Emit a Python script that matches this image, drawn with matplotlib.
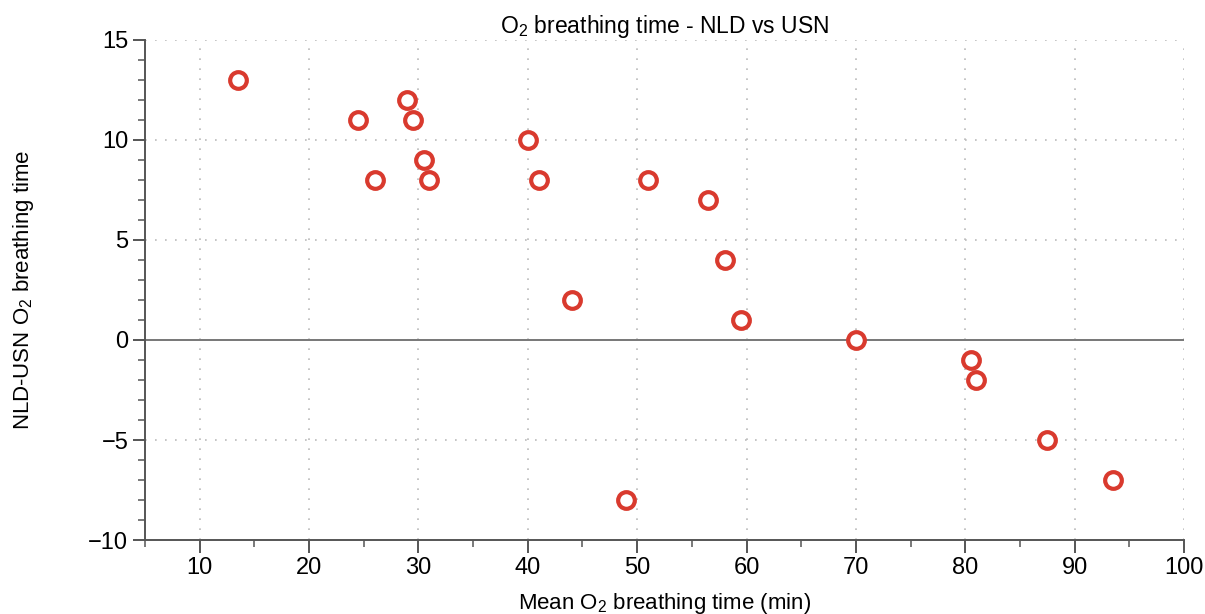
import numpy as np
import matplotlib
matplotlib.use('Agg')
from matplotlib import pyplot as plt
from matplotlib.ticker import MultipleLocator

# data
mean_time = [13.5, 24.5, 26, 29, 29.5, 30.5, 31, 40, 41, 44, 49, 51,
             56.5, 58, 59.5, 70, 80.5, 81, 87.5, 93.5]
diff_time = [13, 11, 8, 12, 11, 9, 8, 10, 8, 2, -8, 8,
             7, 4, 1, 0, -1, -2, -5, -7]

plt.rcParams['font.family'] = ['Liberation Sans', 'DejaVu Sans']
plt.rcParams['mathtext.fontset'] = 'custom'
plt.rcParams['mathtext.rm'] = 'Liberation Sans'
plt.rcParams['mathtext.default'] = 'regular'

fig = plt.figure(figsize=(12.05, 6.14), dpi=100)
ax = fig.add_axes([0.1203, 0.1205, 0.8623, 0.8144])

spine_col = '#555555'
grid_col = '#bbbbbb'

ax.set_xlim(5, 100)
ax.set_ylim(-10, 15)

ax.xaxis.set_major_locator(MultipleLocator(10))
ax.xaxis.set_minor_locator(MultipleLocator(5))
ax.yaxis.set_major_locator(MultipleLocator(5))
ax.yaxis.set_minor_locator(MultipleLocator(1))

for s in ['top', 'right']:
    ax.spines[s].set_visible(False)
for s in ['left', 'bottom']:
    ax.spines[s].set_color(spine_col)
    ax.spines[s].set_linewidth(1.4)

ax.tick_params(which='major', direction='out', length=9, width=1.4, color=spine_col,
               labelsize=17, pad=3)
ax.tick_params(which='minor', direction='out', length=5, width=1.1, color=spine_col)

# dotted grid at major ticks
for xv in np.arange(10, 101, 10):
    ax.axvline(xv, color=grid_col, linestyle=(0, (1, 5)), linewidth=1.2, zorder=0)
for yv in np.arange(-5, 16, 5):
    if yv != 0:
        ax.axhline(yv, color=grid_col, linestyle=(0, (1, 5)), linewidth=1.2, zorder=0)
ax.axhline(0, color='#777777', linewidth=1.4, zorder=1)

ax.plot(mean_time, diff_time, linestyle='none', marker='o', markersize=12,
        markerfacecolor='white', markeredgecolor='#d93a2e', markeredgewidth=3,
        zorder=3, clip_on=False)

ax.set_title('O$_2$ breathing time - NLD vs USN', fontsize=16.5, pad=5)
ax.set_xlabel('Mean O$_2$ breathing time (min)', fontsize=16, labelpad=9)
ax.set_ylabel('NLD-USN O$_2$ breathing time', fontsize=16, labelpad=38)

plt.savefig('out.png', dpi=100)
